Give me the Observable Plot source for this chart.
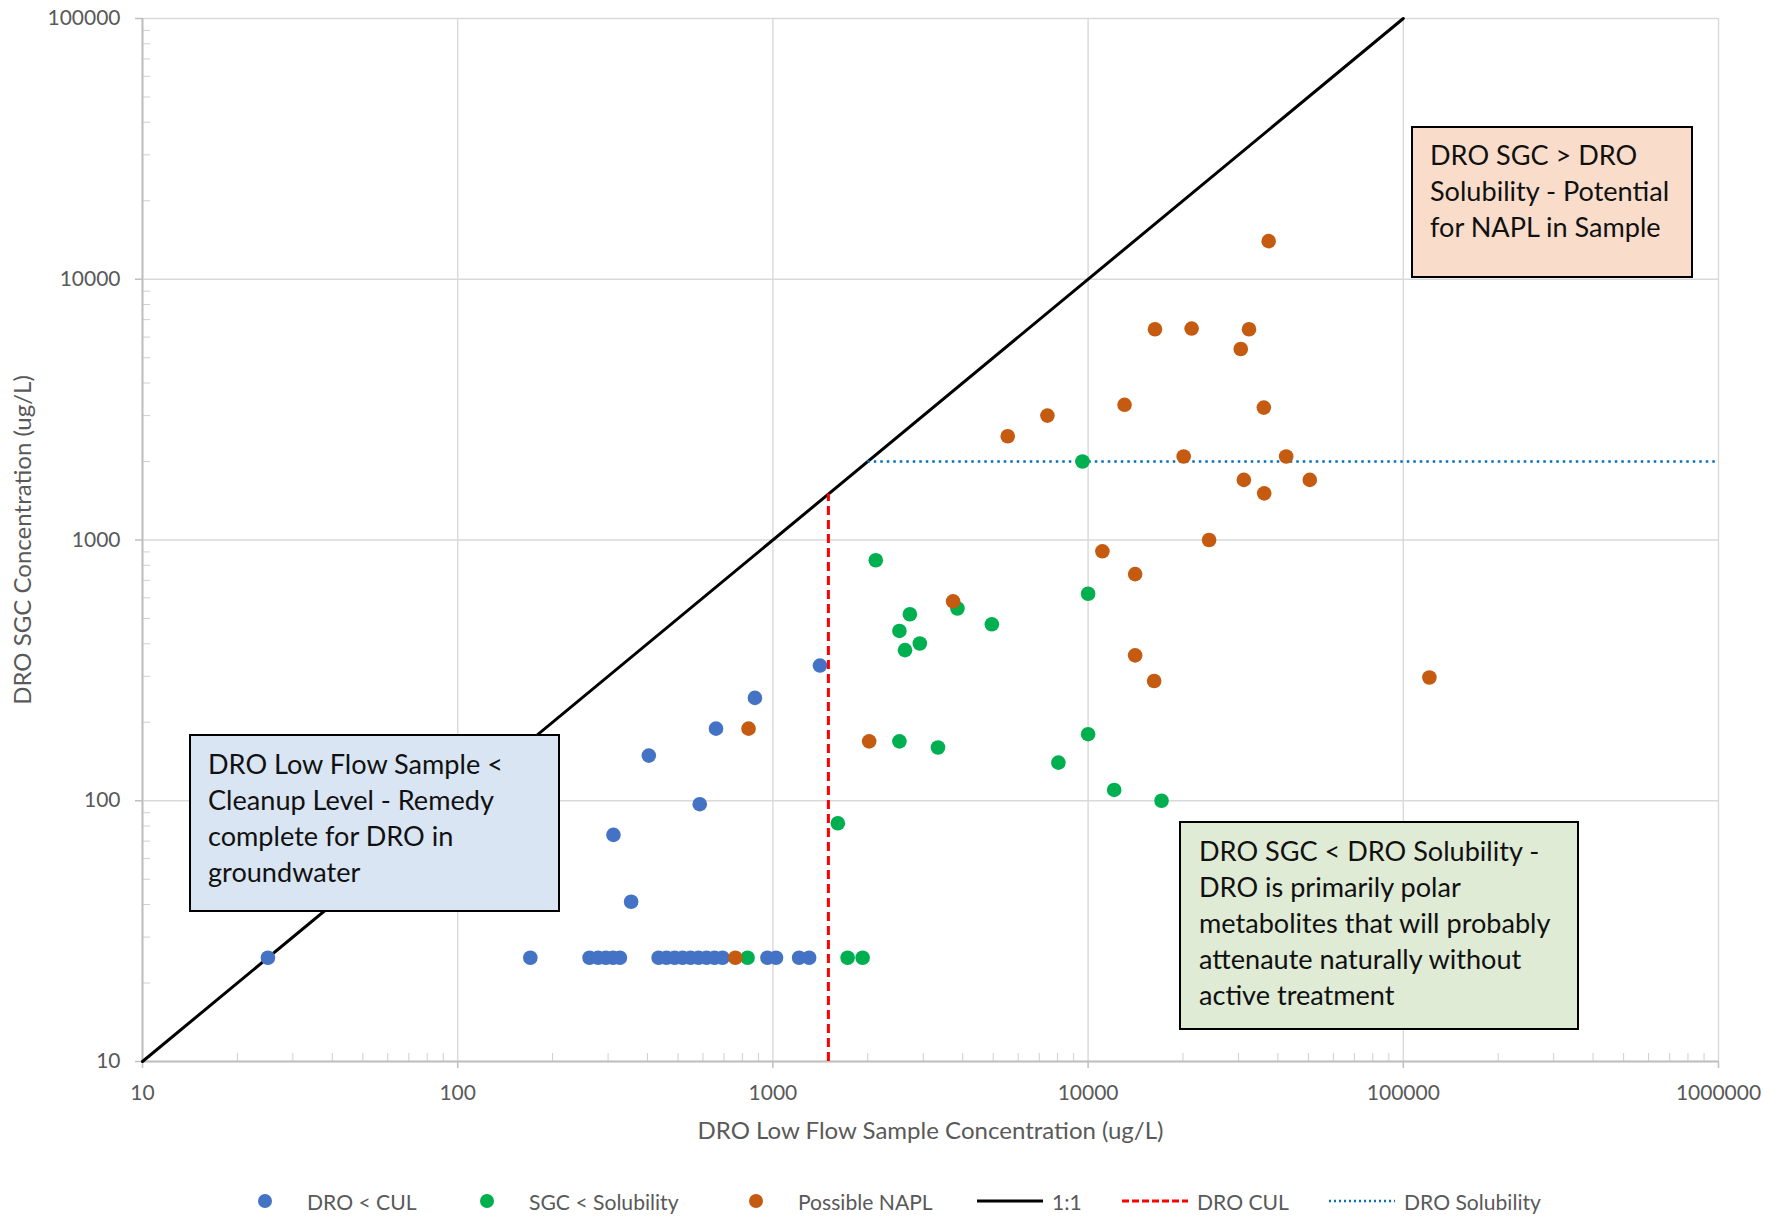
<!DOCTYPE html>
<html><head><meta charset="utf-8">
<script src="https://cdn.jsdelivr.net/npm/d3@7"></script>
<script src="https://cdn.jsdelivr.net/npm/@observablehq/plot@0.6"></script>
<style>
body{margin:0;background:#fff;}
#wrap{position:relative;width:1781px;height:1217px;overflow:hidden;font-family:Lato,"Open Sans",sans-serif;background:#fff;}
#wrap > svg{position:absolute;left:0;top:0;}
.box{position:absolute;box-sizing:border-box;border:2.5px solid #000;color:#111;line-height:36px;white-space:nowrap;}
.leg{position:absolute;top:1183px;height:36px;display:flex;align-items:center;color:#595959;white-space:nowrap;}
.leg svg{position:static;display:block;flex:none;}
</style></head><body><div id="wrap"></div>
<script>
const FONT = "Lato";
// ---- data ----
const xTicks = [10, 100, 1000, 10000, 100000, 1000000];
const yTicks = [10, 100, 1000, 10000, 100000];
const xTitle = "DRO Low Flow Sample Concentration (ug/L)";
const yTitle = "DRO SGC Concentration (ug/L)";

const blueX = [25, 170, 262, 279, 295, 311, 327, 434, 460, 488, 517, 548, 581, 616, 653, 692, 961, 1023, 1211, 1303, 312, 355, 404, 586, 660, 877, 1410];
const blueY = [25, 25, 25, 25, 25, 25, 25, 25, 25, 25, 25, 25, 25, 25, 25, 25, 25, 25, 25, 25, 74, 41, 149, 97, 189, 248, 330];

const greenX = [831, 1726, 1926, 1607, 2520, 3340, 8050, 10000, 12100, 17100, 10000, 2120, 2720, 2520, 2625, 2925, 3850, 4950, 9600];
const greenY = [25, 25, 25, 82, 169, 160, 140, 180, 110, 100, 622, 836, 519, 448, 378, 401, 546, 475, 2000];

const orangeX = [760, 837, 2020, 3730, 11100, 14100, 14100, 16200, 24200, 121000, 5560, 7430, 13050, 36100, 16300, 21300, 32400, 30500, 37400, 20100, 42500, 31200, 36200, 50500];
const orangeY = [25, 189, 169, 582, 905, 740, 361, 288, 1000, 297, 2500, 3000, 3300, 3220, 6430, 6470, 6430, 5400, 14000, 2090, 2090, 1700, 1510, 1700];

const oneToOne = [10, 100000];
const culValue = 1500;
const solubilityValue = 2000;
const xMax = 1000000;

const seriesNames = ["DRO < CUL", "SGC < Solubility", "Possible NAPL"];
const lineNames = ["1:1", "DRO CUL", "DRO Solubility"];

const boxTexts = [
  ["DRO Low Flow Sample <", "Cleanup Level - Remedy", "complete for DRO in", "groundwater"],
  ["DRO SGC > DRO", "Solubility - Potential", "for NAPL in Sample"],
  ["DRO SGC < DRO Solubility -", "DRO is primarily polar", "metabolites that will probably", "attenaute naturally without", "active treatment"]
];

// ---- helpers ----
const zip = (xs, ys) => xs.map((x, i) => ({x, y: ys[i]}));
const blue = zip(blueX, blueY), green = zip(greenX, greenY), orange = zip(orangeX, orangeY);
const minorOf = (ticks) => ticks.slice(0, -1).flatMap(t => [2,3,4,5,6,7,8,9].map(m => m * t));
const xMinor = minorOf(xTicks), yMinor = minorOf(yTicks);

const ctx = document.createElement("canvas").getContext("2d");
function fit(text, target) { ctx.font = `100px ${FONT}`; return 100 * target / ctx.measureText(text).width; }
const tickFS = fit("100000", 73);
const titleFS = (fit(xTitle, 474) + fit(yTitle, 325)) / 2;
const legendFS = fit("DRO Solubility", 137);
const boxFS = (fit("metabolites that will probably", 357) + fit("Cleanup Level - Remedy", 282) + fit("Solubility - Potential", 240)) / 3;

const C = {blue: "#4472c4", green: "#00b050", orange: "#c55a11", grid: "#d9d9d9", axis: "#bfbfbf", text: "#595959"};

const chart = Plot.plot({
  width: 1781, height: 1165,
  marginLeft: 142, marginRight: 63, marginTop: 18, marginBottom: 104,
  x: {type: "log", domain: [10, xMax], label: null},
  y: {type: "log", domain: [10, 100000], label: null},
  style: {fontFamily: FONT, background: "#fff", color: C.text, overflow: "visible"},
  marks: [
    Plot.gridX({ticks: xTicks, stroke: C.grid, strokeOpacity: 1, strokeWidth: 1.4}),
    Plot.gridY({ticks: yTicks, stroke: C.grid, strokeOpacity: 1, strokeWidth: 1.4}),
    Plot.axisX({ticks: xMinor, tickSize: 8, dy: -8, tickFormat: () => "", stroke: "#cfcfcf", label: null}),
    Plot.axisY({ticks: yMinor, tickSize: 8, dx: 8, tickFormat: () => "", stroke: "#cfcfcf", label: null}),
    Plot.axisX({ticks: xTicks, tickSize: 7, tickPadding: 17, tickFormat: d => String(d), fontSize: tickFS, fill: C.text, stroke: C.axis, strokeWidth: 1.5, label: null}),
    Plot.axisY({ticks: yTicks, tickSize: 7, tickPadding: 15, tickFormat: d => String(d), fontSize: tickFS, fill: C.text, stroke: C.axis, strokeWidth: 1.5, label: null}),
    Plot.ruleX([10], {stroke: C.axis, strokeWidth: 2}),
    Plot.ruleY([10], {stroke: C.axis, strokeWidth: 2}),
    Plot.line(oneToOne, {x: d => d, y: d => d, stroke: "#000", strokeWidth: 3}),
    Plot.ruleX([culValue], {y1: 10, y2: culValue, stroke: "#ff0000", strokeWidth: 3, strokeDasharray: "9,5"}),
    Plot.ruleY([solubilityValue], {x1: solubilityValue, x2: xMax, stroke: "#0070c0", strokeWidth: 2.5, strokeDasharray: "2.5,4"}),
    Plot.dot(blue, {x: "x", y: "y", r: 7.3, fill: C.blue}),
    Plot.dot(green, {x: "x", y: "y", r: 7.3, fill: C.green}),
    Plot.dot(orange, {x: "x", y: "y", r: 7.3, fill: C.orange}),
    Plot.text([xTitle], {text: d => d, frameAnchor: "bottom", lineAnchor: "middle", textAnchor: "middle", dy: 70, fontSize: titleFS, fill: C.text}),
    Plot.text([yTitle], {text: d => d, frameAnchor: "left", lineAnchor: "middle", textAnchor: "middle", rotate: -90, dx: -119, fontSize: titleFS, fill: C.text})
  ]
});
const wrap = document.getElementById("wrap");
wrap.appendChild(chart);

// ---- annotation boxes (layout) ----
const boxLayout = [
  {left: 189, top: 734, width: 371, height: 178, pl: 17, pt: 10, bg: "#d9e5f2"},
  {left: 1411, top: 126, width: 282, height: 152, pl: 17, pt: 9, bg: "#f9ddca"},
  {left: 1179, top: 821, width: 400, height: 209, pl: 18, pt: 10, bg: "#dfebd5"}
];
boxTexts.forEach((lines, i) => {
  const b = boxLayout[i];
  const div = document.createElement("div");
  div.className = "box";
  Object.assign(div.style, {left: b.left + "px", top: b.top + "px", width: b.width + "px", height: b.height + "px",
    paddingLeft: b.pl + "px", paddingTop: b.pt + "px", background: b.bg, fontSize: boxFS + "px"});
  div.innerHTML = lines.join("<br>");
  wrap.appendChild(div);
});

// ---- legend (HTML, below plot) ----
const legendItems = [
  {label: seriesNames[0], kind: "dot", color: C.blue, left: 257},
  {label: seriesNames[1], kind: "dot", color: C.green, left: 479},
  {label: seriesNames[2], kind: "dot", color: C.orange, left: 748},
  {label: lineNames[0], kind: "line", color: "#000", dash: null, w: 3, left: 977},
  {label: lineNames[1], kind: "line", color: "#ff0000", dash: "7,3", w: 3, left: 1122},
  {label: lineNames[2], kind: "line", color: "#0070c0", dash: "2,3", w: 2.5, left: 1329}
];
legendItems.forEach(it => {
  const d = document.createElement("div");
  d.className = "leg";
  d.style.left = it.left + "px";
  d.style.fontSize = legendFS + "px";
  let sw;
  if (it.kind === "dot") {
    sw = `<svg width="16" height="16" style="margin-right:34px"><circle cx="8" cy="8" r="7" fill="${it.color}"/></svg>`;
  } else {
    sw = `<svg width="66" height="10" style="margin-right:9px"><line x1="0" x2="66" y1="5" y2="5" stroke="${it.color}" stroke-width="${it.w}" ${it.dash ? `stroke-dasharray="${it.dash}"` : ""}/></svg>`;
  }
  d.innerHTML = sw + `<span>${it.label.replace("<", "&lt;")}</span>`;
  wrap.appendChild(d);
});
</script>
</body></html>
